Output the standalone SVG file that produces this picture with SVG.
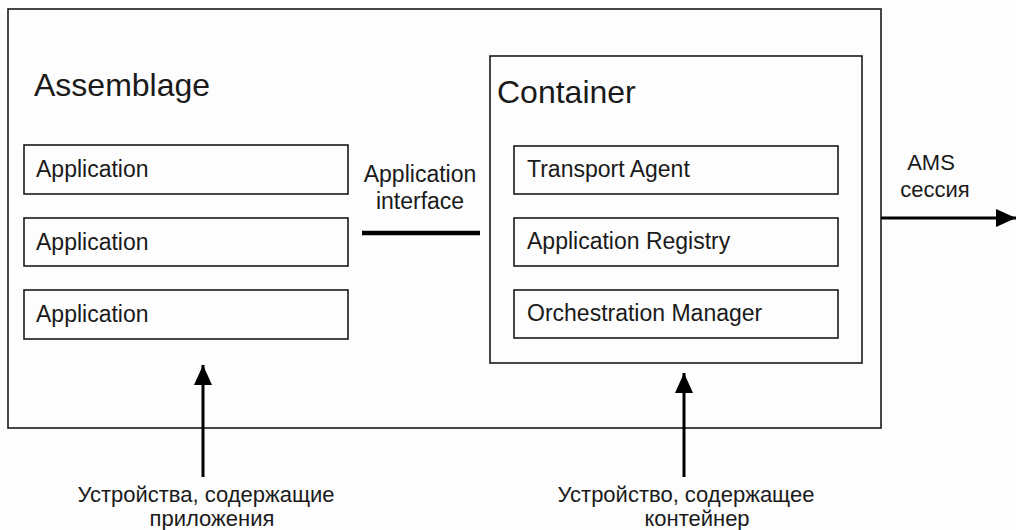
<svg xmlns="http://www.w3.org/2000/svg" width="1016" height="530" viewBox="0 0 1016 530">
<style>
  .box { fill: none; stroke: #1a1a1a; stroke-width: 1.6; }
  .t { font-family: "Liberation Sans", Arial, sans-serif; fill: #1a1a1a; }
  .title { font-size: 32px; }
  .lbl { font-size: 23px; }
  .small { font-size: 22px; }
  .conn { stroke: #000; stroke-width: 3; fill: none; }
</style>
<defs>
  <marker id="ah" markerUnits="userSpaceOnUse" markerWidth="22" markerHeight="18" refX="20" refY="9" orient="auto">
    <path d="M0,0 L20,9 L0,18 Z" fill="#000"/>
  </marker>
</defs>
<rect width="1016" height="530" fill="#fdfdfd"/>
<g id="assemblage">
  <rect class="box" x="8" y="9" width="873" height="419"/>
  <text class="t title" x="34" y="96">Assemblage</text>
</g>
<g id="app1">
  <rect class="box" x="24" y="145" width="324" height="49"/>
  <text class="t lbl" x="36" y="177">Application</text>
</g>
<g id="app2">
  <rect class="box" x="24" y="218" width="324" height="48"/>
  <text class="t lbl" x="36" y="250">Application</text>
</g>
<g id="app3">
  <rect class="box" x="24" y="290" width="324" height="49"/>
  <text class="t lbl" x="36" y="322">Application</text>
</g>
<g id="container">
  <rect class="box" x="490" y="56" width="372" height="307"/>
  <text class="t title" x="497" y="103">Container</text>
</g>
<g id="transport">
  <rect class="box" x="514" y="146" width="324" height="48"/>
  <text class="t lbl" x="527" y="177">Transport Agent</text>
</g>
<g id="registry">
  <rect class="box" x="514" y="218" width="324" height="48"/>
  <text class="t lbl" x="527" y="249">Application Registry</text>
</g>
<g id="orchestration">
  <rect class="box" x="514" y="290" width="324" height="48"/>
  <text class="t lbl" x="527" y="321">Orchestration Manager</text>
</g>
<g id="connectors">
  <line x1="362" y1="233" x2="480" y2="233" stroke="#000" stroke-width="4.5"/>
  <text class="t lbl" x="420" y="182" text-anchor="middle">Application</text>
  <text class="t lbl" x="420" y="209" text-anchor="middle">interface</text>
  <line class="conn" x1="881" y1="218" x2="1016" y2="218" marker-end="url(#ah)"/>
  <text class="t small" x="931" y="170" text-anchor="middle">AMS</text>
  <text class="t small" x="935" y="197" text-anchor="middle">сессия</text>
  <line class="conn" x1="203" y1="477" x2="203" y2="365" marker-end="url(#ah)"/>
  <line class="conn" x1="684" y1="477" x2="684" y2="373" marker-end="url(#ah)"/>
  <text class="t small" x="206" y="502" text-anchor="middle">Устройства, содержащие</text>
  <text class="t small" x="212" y="526" text-anchor="middle">приложения</text>
  <text class="t small" x="686" y="502" text-anchor="middle">Устройство, содержащее</text>
  <text class="t small" x="697" y="526" text-anchor="middle">контейнер</text>
</g>
</svg>
